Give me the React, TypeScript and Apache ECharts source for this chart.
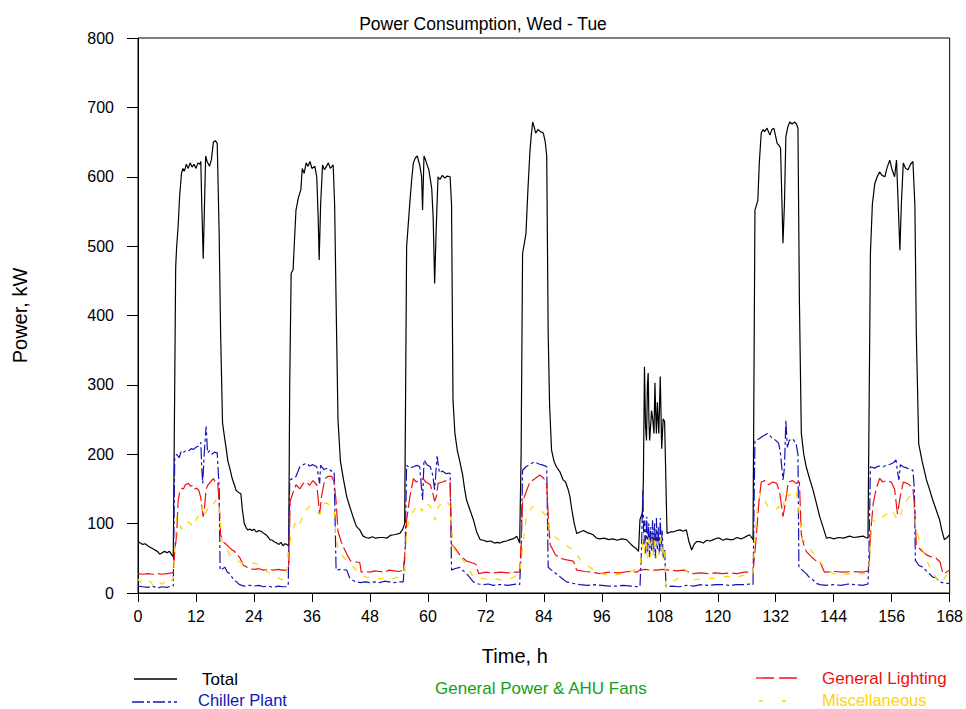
import React, { useEffect, useRef } from "react";
import * as echarts from "echarts";

// ---- Data (time in hours, power in kW) ----
const xTicks = [0, 12, 24, 36, 48, 60, 72, 84, 96, 108, 120, 132, 144, 156, 168];
const yTicks = [0, 100, 200, 300, 400, 500, 600, 700, 800];

const totalSeries: number[][] = [
  [0,74],[0.5,72],[1,70],[1.5,71],[2,68],[2.5,66],[3,64],[3.5,62],[4,60],[4.5,56],[5,58],[5.5,60],[6,58],[6.5,60],[7,55],[7.3,52],[7.6,300],[7.8,470],[8.0,499],[8.3,528],[8.6,570],[9.0,605],[9.3,612],[9.6,608],[10,618],[10.4,612],[10.8,620],[11.2,614],[11.6,618],[12,612],[12.4,620],[12.8,618],[13.0,622],[13.2,560],[13.5,482],[13.7,540],[14.0,630],[14.3,622],[14.8,615],[15.2,625],[15.6,650],[16.0,652],[16.4,648],[16.8,518],[17.1,374],[17.5,245],[17.9,225],[18.3,206],[18.6,190],[19.0,180],[19.5,165],[20.0,155],[20.3,148],[20.8,145],[21.3,143],[21.6,120],[22.0,100],[22.4,94],[22.7,91],[23.2,92],[23.6,90],[24,92],[24.5,88],[25,90],[25.5,89],[26,86],[26.5,84],[27,80],[27.3,77],[27.8,76],[28.2,74],[28.7,72],[29.2,70],[29.6,73],[30,68],[30.4,71],[30.8,70],[31.2,68],[31.4,300],[31.7,461],[32.1,466],[32.4,510],[32.7,552],[33.2,570],[33.7,581],[34.0,612],[34.4,605],[34.8,620],[35.2,615],[35.6,622],[36.0,612],[36.6,615],[37.0,600],[37.3,540],[37.5,480],[37.8,560],[38.2,617],[38.6,610],[39.0,615],[39.4,620],[39.8,612],[40.4,617],[40.7,560],[41.0,420],[41.4,249],[41.9,190],[42.5,165],[43.2,139],[43.8,125],[44.5,110],[45.2,96],[45.9,91],[46.6,82],[47.2,80],[47.8,79],[48.5,81],[49.2,79],[50,80],[50.8,80],[51.5,79],[52.2,83],[53,84],[53.6,85],[54.2,86],[54.8,92],[55.2,100],[55.6,499],[56.3,566],[56.7,600],[57.0,620],[57.4,627],[57.8,630],[58.1,622],[58.3,617],[58.7,600],[58.9,552],[59.2,630],[59.5,625],[59.7,620],[60.2,610],[60.8,583],[61.1,540],[61.4,446],[61.7,520],[62.1,600],[62.5,596],[63,602],[63.5,598],[64,601],[64.6,600],[64.9,560],[65.2,278],[65.6,230],[66.1,205],[66.6,190],[67.2,170],[67.6,150],[68.0,134],[68.7,120],[69.4,106],[70.1,88],[70.8,77],[71.5,76],[72.2,74],[73,75],[73.8,72],[74.4,73],[74.9,72],[75.6,74],[76.3,75],[77,77],[77.6,78],[78.1,80],[78.4,82],[79.0,72],[79.3,200],[79.6,489],[80.3,518],[80.7,580],[81.1,634],[81.4,660],[81.7,679],[82.0,672],[82.3,663],[82.8,668],[83.3,665],[83.9,663],[84.3,650],[84.6,630],[84.9,374],[85.2,270],[85.6,206],[86.1,190],[86.6,182],[87.3,175],[88.0,163],[88.5,160],[89.0,150],[89.4,139],[89.8,120],[90.3,100],[90.8,86],[91.5,88],[92.2,90],[93.0,87],[93.5,86],[94.2,84],[94.9,79],[95.6,78],[96.5,79],[97.4,77],[98.3,78],[99.2,76],[100.1,78],[101.1,77],[101.8,72],[102.5,67],[103.0,65],[103.6,60],[103.9,106],[104.4,115],[104.6,160],[104.83,326],[105.05,240],[105.25,220],[105.45,300],[105.6,317],[105.75,250],[105.9,220],[106.1,240],[106.3,263],[106.55,250],[106.8,230],[107.0,303],[107.15,260],[107.3,230],[107.5,275],[107.65,250],[107.8,230],[108.1,312],[108.25,260],[108.4,208],[108.7,251],[109.0,247],[109.5,86],[110.2,88],[110.8,88],[111.5,90],[112.2,91],[112.8,89],[113.5,91],[114.0,75],[114.6,62],[115.1,70],[115.6,74],[116.3,74],[117,72],[117.7,76],[118.4,75],[119.1,77],[119.8,79],[120.4,79],[121.1,76],[121.8,78],[122.5,77],[123.2,77],[124,80],[124.8,78],[125.5,80],[126.0,82],[126.6,84],[127.0,80],[127.3,77],[127.7,552],[128.3,566],[128.6,620],[129.0,663],[129.4,668],[129.7,665],[130.2,670],[130.8,660],[131.2,668],[131.6,670],[132.0,658],[132.3,648],[132.7,645],[133.0,641],[133.3,560],[133.5,504],[133.8,560],[134.1,658],[134.5,672],[134.9,679],[135.4,676],[135.9,679],[136.3,676],[136.6,670],[136.9,422],[137.3,230],[137.8,200],[138.3,182],[139.0,165],[139.7,149],[140.4,130],[141.1,110],[141.8,95],[142.5,79],[143.2,80],[144,78],[145,80],[146,79],[147.3,82],[148.2,80],[149.1,81],[150.1,82],[150.6,80],[151.1,79],[151.6,489],[152.0,560],[152.5,590],[153.0,600],[153.5,607],[154.0,602],[154.6,600],[155.0,612],[155.6,624],[156.1,610],[156.6,600],[157.0,624],[157.3,570],[157.7,494],[158.0,560],[158.4,620],[158.9,612],[159.4,610],[159.9,618],[160.4,622],[160.8,560],[161.1,374],[161.6,215],[162.3,190],[163.2,163],[163.8,150],[164.5,134],[165.2,120],[165.9,106],[166.4,90],[166.9,77],[167.5,80],[168,84]
];

const chillerSeries: number[][] = [
  [0,10],[1,9],[2,8],[3,10],[4,7],[5,9],[6,8],[7,11],[7.3,10],[7.6,196],[8,200],[8.5,195],[9,205],[9.5,203],[10,206],[10.5,205],[11,208],[11.5,207],[12,210],[12.5,212],[13.0,217],[13.2,180],[13.4,158],[13.7,200],[14.1,240],[14.4,202],[14.8,205],[15.3,200],[15.8,203],[16.4,202],[16.8,150],[17.0,33],[17.5,35],[18.0,37],[18.5,30],[19.0,28],[19.7,20],[20.4,16],[21,12],[22,10],[23,11],[24,10],[25,11],[26,9],[27,10],[28,8],[29,10],[30,9],[30.8,9],[31.1,10],[31.4,163],[32,165],[32.7,168],[33.5,182],[34.2,185],[34.9,187],[35.5,183],[36.2,185],[37.0,182],[37.3,170],[37.6,158],[37.8,184],[38.5,178],[39.2,180],[40.0,176],[40.6,175],[41.0,33],[42,34],[43.2,33],[43.8,22],[44.5,18],[45.2,16],[46,15],[47,16],[48,15],[49,16],[50,15],[51,17],[52,16],[53,15],[54,16],[54.9,16],[55.3,60],[55.6,184],[56.3,180],[57,182],[57.8,184],[58.3,182],[58.9,134],[59.2,192],[59.8,185],[60.5,182],[61.0,170],[61.4,149],[61.9,197],[62.4,173],[63,176],[63.8,172],[64.6,173],[64.9,33],[65.5,35],[66.6,37],[67.3,32],[68.0,28],[68.7,22],[69.4,16],[70.5,13],[71.5,12],[72.5,13],[73.5,11],[74.5,12],[75.5,12],[76.5,11],[77.5,12],[78.5,13],[79.0,12],[79.3,60],[79.6,177],[80.3,182],[81.0,185],[82.0,189],[83.0,186],[84.0,184],[84.6,182],[84.9,37],[85.6,33],[86.5,28],[87.4,23],[88.7,16],[90,14],[91.5,12],[93,11],[94.5,12],[96,11],[97.5,10],[99,10],[100.5,11],[102,10],[103.5,9],[103.9,9],[104.2,60],[104.5,148],[104.7,70],[104.9,105],[105.1,55],[105.3,110],[105.5,60],[105.7,100],[105.9,52],[106.1,95],[106.3,60],[106.5,105],[106.7,55],[106.9,100],[107.1,50],[107.3,108],[107.5,62],[107.7,95],[107.9,55],[108.1,108],[108.3,60],[108.5,90],[108.7,50],[109.0,62],[109.3,9],[110.5,10],[112,9],[113.5,11],[115,10],[116.5,12],[118,11],[119.5,12],[121,12],[122.5,11],[124,12],[125.5,12],[126.6,13],[127.3,12],[127.7,220],[128.5,222],[129.3,226],[130.3,230],[131.2,224],[132.0,220],[132.6,216],[133.0,200],[133.5,163],[133.8,180],[134.1,249],[134.4,210],[134.8,220],[135.5,222],[136.2,216],[136.6,200],[136.8,37],[137.5,33],[138.3,28],[139.0,22],[139.7,19],[140.4,14],[141.1,12],[142.5,11],[144,12],[145.5,11],[147,13],[148.5,12],[150,11],[151.1,13],[151.3,60],[151.6,182],[152.5,180],[153.3,183],[154.2,182],[154.9,184],[155.8,186],[156.4,188],[156.9,192],[157.2,175],[157.5,163],[157.8,185],[158.4,182],[159.2,180],[159.8,178],[160.4,177],[160.7,150],[160.9,47],[161.6,40],[162.5,37],[163.4,30],[164.5,23],[165.2,22],[165.9,16],[167,14],[168,14]
];

const lightingSeries: number[][] = [
  [0,28],[1,27],[2,28],[3,27],[4,28],[5,27],[6,28],[7,29],[7.3,30],[7.6,60],[8.0,84],[8.3,132],[8.6,145],[9.0,151],[9.4,150],[9.8,156],[10.4,158],[10.9,154],[11.3,155],[11.7,150],[12.1,151],[12.6,148],[13.0,137],[13.3,120],[13.5,110],[13.8,125],[14.1,150],[14.5,156],[15.0,160],[15.6,165],[16.0,160],[16.5,160],[16.8,130],[17.1,84],[17.6,74],[18.3,70],[19.0,65],[19.5,62],[20.0,60],[20.4,55],[21.0,52],[21.8,40],[22.4,38],[23.1,35],[24,34],[25,35],[26,33],[27,34],[28,33],[29,34],[30,33],[30.8,33],[31.2,40],[31.5,132],[32.1,145],[32.7,156],[33.5,150],[34.2,158],[34.9,160],[35.5,155],[36.2,162],[37,156],[37.3,135],[37.6,114],[38.0,140],[38.7,165],[39.3,168],[40.1,168],[40.6,160],[41.0,132],[41.4,89],[42.0,75],[42.6,65],[43.3,55],[44.0,46],[45.0,45],[45.9,44],[46.2,30],[47,31],[48,30],[49,32],[50,31],[51,30],[52,33],[53,32],[54,31],[54.9,33],[55.3,60],[55.6,105],[56.3,140],[57.0,165],[57.6,160],[58.3,163],[59.0,165],[59.6,160],[60.5,156],[61.0,145],[61.4,132],[61.8,140],[62.1,158],[63,160],[63.8,162],[64.6,160],[64.9,70],[65.6,65],[66.6,55],[67.3,50],[68.0,46],[69.0,44],[70.0,41],[70.5,28],[72,30],[73.5,29],[75,30],[76.5,29],[78,30],[79.0,30],[79.3,70],[79.6,132],[80.3,145],[81.1,160],[82.2,165],[83.2,170],[84.0,165],[84.6,156],[85.0,100],[85.3,70],[86.4,55],[87.4,50],[88.5,48],[90.1,46],[90.8,33],[92.5,31],[94,30],[95.6,28],[97.5,30],[99.5,29],[101.5,31],[103.2,30],[103.9,33],[105,34],[106,33],[107.3,33],[108.5,34],[110,33],[111.5,32],[113,33],[114.2,30],[114.9,28],[116.5,29],[118,28],[119.5,29],[121,28],[122.5,29],[124,28],[125.5,30],[127.3,30],[127.7,60],[128.0,84],[128.5,130],[129.0,160],[129.7,162],[130.5,156],[131.4,160],[132.2,158],[132.8,146],[133.5,110],[134.0,130],[134.6,160],[135.5,162],[136.2,158],[136.9,160],[137.3,84],[137.8,70],[138.3,60],[139.4,52],[140.4,46],[141.2,44],[142.1,30],[144,31],[146,30],[148,31],[150,30],[151.3,32],[151.6,84],[152.2,130],[152.8,150],[153.5,165],[154.2,160],[154.9,162],[155.9,160],[156.6,150],[157.2,114],[157.8,140],[158.4,160],[159.2,158],[159.8,155],[160.4,151],[160.8,120],[161.1,70],[162.0,62],[163.2,55],[164.2,52],[165.2,50],[166.0,45],[166.6,28],[167.3,30],[168,33]
];

const miscSeries: number[][] = [
  [0,20],[0.5,15],[1,18],[2,14],[2.5,17],[3,12],[4,18],[4.5,15],[5,13],[6,19],[6.5,22],[7,18],[7.3,20],[7.6,60],[8.0,110],[8.5,104],[9,92],[9.5,98],[10,104],[10.8,100],[11.5,95],[12.2,108],[12.8,113],[13.2,125],[13.6,110],[14.2,118],[14.9,130],[15.6,128],[16.2,135],[16.6,133],[17.0,110],[17.3,76],[18,68],[19,55],[20,50],[21,45],[21.8,42],[23,44],[24.6,42],[25.5,38],[26.5,32],[27.3,28],[28.5,24],[29.5,20],[30,19],[30.8,22],[31.1,60],[31.8,85],[32.8,106],[33.5,100],[34.5,118],[35.6,125],[36.5,120],[37.6,113],[38.4,128],[39,130],[40,125],[40.6,118],[41.0,80],[41.5,62],[42.5,52],[43.5,45],[44.5,38],[45.5,30],[46.5,25],[47.5,22],[48.5,24],[50,20],[51.5,22],[53,21],[54.5,24],[55.2,28],[55.6,90],[56.3,110],[57.2,120],[58,128],[58.8,118],[59.5,130],[60.3,126],[61.0,120],[61.5,105],[62.2,125],[63.0,130],[63.8,134],[64.6,125],[65.2,67],[66.2,55],[67.2,48],[68,41],[69.4,23],[70.5,22],[72,20],[73.5,21],[75,19],[76.2,19],[77.5,22],[79,28],[79.5,60],[80.3,106],[81.0,118],[81.7,125],[82.8,120],[83.9,116],[84.5,110],[85.3,86],[86.5,80],[88,72],[89.2,66],[90.3,62],[91.5,48],[93,40],[94.5,32],[95.6,28],[97,26],[98.5,25],[100,28],[101.5,30],[103,34],[103.9,37],[104.3,60],[104.6,86],[104.9,55],[105.2,80],[105.5,50],[105.8,85],[106.1,52],[106.4,78],[106.7,55],[107.0,82],[107.3,50],[107.6,75],[107.9,55],[108.2,80],[108.5,52],[108.8,70],[109.1,40],[109.3,9],[110,12],[111,18],[112,22],[113.5,33],[114.2,25],[114.9,19],[116,20],[117.5,22],[119,21],[120.5,23],[122,24],[123.5,22],[125,25],[126.5,26],[127.3,28],[127.7,80],[128.3,130],[128.9,144],[129.6,135],[130.3,125],[131.2,122],[132.0,120],[132.7,125],[133.4,118],[134.0,144],[134.8,140],[135.4,145],[136.0,149],[136.6,135],[137.0,100],[137.6,77],[138.5,70],[139.7,58],[140.8,48],[142,38],[143.8,28],[145.5,26],[147,28],[148.5,27],[150,28],[151.2,30],[151.6,70],[152,106],[152.8,102],[153.5,106],[154.5,112],[155.2,115],[155.9,120],[156.8,110],[157.5,105],[158.4,125],[159.0,132],[159.7,139],[160.4,135],[160.9,100],[161.8,72],[162.8,55],[163.9,37],[164.9,25],[165.9,14],[166.8,20],[167.5,28],[168,26]
];

const seriesNames = ["Total", "Chiller Plant", "General Power & AHU Fans", "General Lighting", "Miscellaneous"];
const titleText = "Power Consumption, Wed - Tue";
const xAxisName = "Time, h";
const yAxisName = "Power, kW";

const FONT = "'Liberation Sans', Arial, Helvetica, sans-serif";
const C_TOTAL = "#000000";
const C_CHILLER = "#1414b4";
const C_GENPOWER = "#14a014";
const C_LIGHT = "#ee1010";
const C_MISC = "#ffd400";

export default function App() {
  const ref = useRef<HTMLDivElement>(null);

  useEffect(() => {
    document.body.style.margin = "0";
    if (!ref.current) return;
    const chart = echarts.init(ref.current, null, { renderer: "svg" });

    const legendText = (x: number, y: number, text: string, color: string, size = 17) => ({
      type: "text",
      x,
      y,
      style: { text, fill: color, font: `${size}px ${FONT}`, textVerticalAlign: "middle", textAlign: "left" },
      silent: true,
    });
    const legendLine = (x1: number, x2: number, y: number, color: string, dash: number[] | null) => ({
      type: "line",
      shape: { x1, y1: y, x2, y2: y },
      style: { stroke: color, lineWidth: 1.3, lineDash: dash || undefined },
      silent: true,
    });

    chart.setOption({
      animation: false,
      backgroundColor: "#ffffff",
      title: {
        text: titleText,
        left: "center",
        top: 10,
        textStyle: { fontFamily: FONT, fontSize: 17.5, fontWeight: "normal", color: "#000" },
      },
      grid: {
        left: 138,
        right: 16,
        top: 38,
        bottom: 116,
        show: true,
        borderColor: "#000",
        borderWidth: 1,
        backgroundColor: "transparent",
      },
      xAxis: {
        type: "value",
        min: xTicks[0],
        max: xTicks[xTicks.length - 1],
        interval: 12,
        name: xAxisName,
        nameLocation: "middle",
        nameGap: 53,
        nameTextStyle: { fontFamily: FONT, fontSize: 20, color: "#000", padding: [0, 58, 0, 0] },
        axisLine: { show: true, onZero: false, lineStyle: { color: "#000", width: 1 } },
        axisTick: { show: true, inside: false, length: 9, lineStyle: { color: "#000" } },
        axisLabel: { fontFamily: FONT, fontSize: 16, color: "#000", margin: 15 },
        splitLine: { show: false },
      },
      yAxis: {
        type: "value",
        min: yTicks[0],
        max: yTicks[yTicks.length - 1],
        interval: 100,
        name: yAxisName,
        nameLocation: "middle",
        nameGap: 108,
        nameTextStyle: { fontFamily: FONT, fontSize: 20, color: "#000" },
        axisLine: { show: true, lineStyle: { color: "#000", width: 1 } },
        axisTick: { show: true, inside: false, length: 11, lineStyle: { color: "#000" } },
        axisLabel: { fontFamily: FONT, fontSize: 16, color: "#000", margin: 24 },
        splitLine: { show: false },
      },
      series: [
        {
          name: seriesNames[0],
          type: "line",
          data: totalSeries,
          showSymbol: false,
          symbol: "none",
          lineStyle: { color: C_TOTAL, width: 1.2 },
          z: 2,
        },
        {
          name: seriesNames[1],
          type: "line",
          data: chillerSeries,
          showSymbol: false,
          symbol: "none",
          lineStyle: { color: C_CHILLER, width: 1.2, type: [12, 3, 3, 3] },
          z: 3,
        },
        {
          name: seriesNames[3],
          type: "line",
          data: lightingSeries,
          showSymbol: false,
          symbol: "none",
          lineStyle: { color: C_LIGHT, width: 1.2, type: [16, 4] },
          z: 4,
        },
        {
          name: seriesNames[4],
          type: "line",
          data: miscSeries,
          showSymbol: false,
          symbol: "none",
          lineStyle: { color: C_MISC, width: 1.3, type: [6, 9] },
          z: 5,
        },
      ],
      graphic: [
        legendLine(134, 177, 679, C_TOTAL, null),
        legendText(202, 679, seriesNames[0], C_TOTAL),
        legendLine(132, 177, 702, C_CHILLER, [12, 3, 3, 3]),
        legendText(198, 700, seriesNames[1], C_CHILLER, 16.5),
        legendText(435, 688, seriesNames[2], C_GENPOWER),
        legendLine(756, 797, 678, C_LIGHT, [18, 5]),
        legendText(822, 678, seriesNames[3], C_LIGHT),
        legendLine(759, 786, 701, C_MISC, [4, 19]),
        legendText(822, 700, seriesNames[4], C_MISC, 16.5),
      ],
    });

    return () => chart.dispose();
  }, []);

  return <div ref={ref} style={{ width: 966, height: 709 }} />;
}
